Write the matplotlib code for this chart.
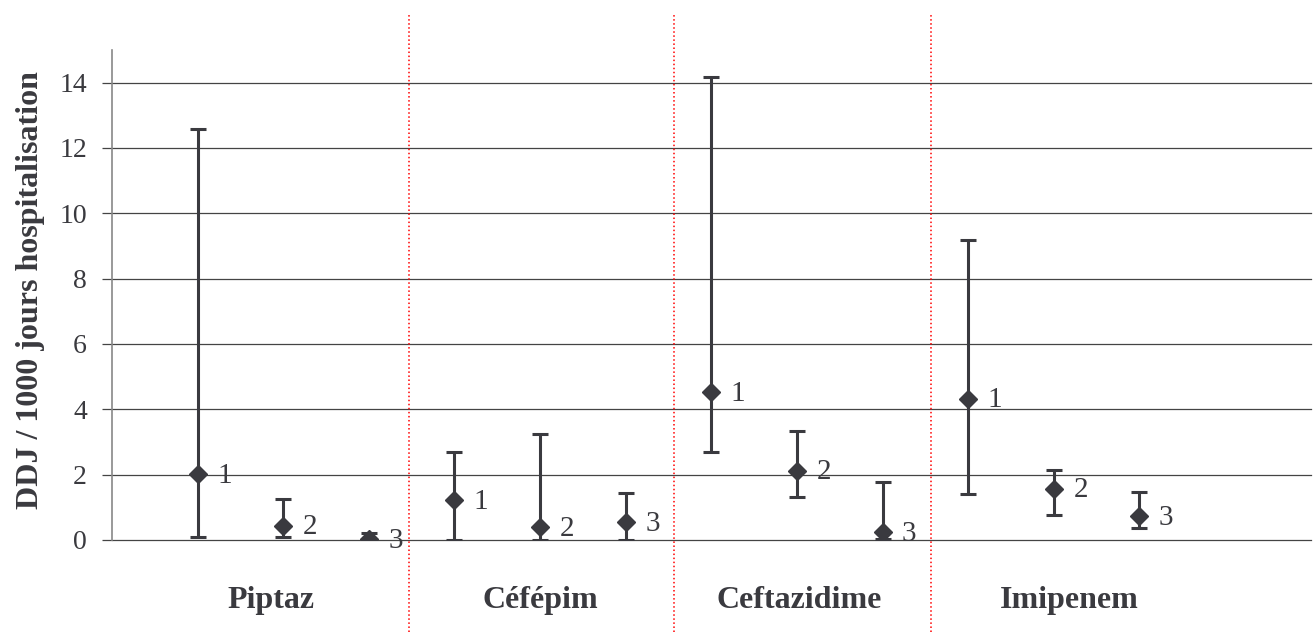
import numpy as np
import matplotlib
matplotlib.use("Agg")
import matplotlib.pyplot as plt

# DDJ / 1000 jours hospitalisation, 3 periodes par antibiotique
drugs = ["Piptaz", "Céfépim", "Ceftazidime", "Imipenem"]
periods = ["1", "2", "3"]
values = [2.01, 0.44, 0.02,
          1.22, 0.39, 0.54,
          4.52, 2.12, 0.24,
          4.33, 1.57, 0.73]
lower = [0.08, 0.10, 0.00,
         0.00, 0.00, 0.00,
         2.68, 1.32, 0.03,
         1.41, 0.76, 0.38]
upper = [12.59, 1.25, 0.22,
         2.70, 3.24, 1.45,
         14.18, 3.35, 1.77,
         9.17, 2.14, 1.48]
y_ticks = [0, 2, 4, 6, 8, 10, 12, 14]

# layout (not data): where the group names and separators sit
label_x = [1.86, 5.0, 8.03, 11.18]
sep_x = [3.47, 6.56, 9.56]

plt.rcParams['font.family'] = ['Liberation Serif', 'DejaVu Serif']

dark = '#3a3a3f'
fig = plt.figure(figsize=(13.16, 6.32), dpi=100)
ax = fig.add_axes([0.0851, 0.1456, 0.996 - 0.0851, 0.9209 - 0.1456])

n = len(values)
x = np.arange(1, n + 1)
vals = np.array(values)
yerr = [vals - np.array(lower), np.array(upper) - vals]

for yt in y_ticks:
    ax.axhline(yt, color='#444444', linewidth=0.9, zorder=1, clip_on=False)

ax.errorbar(x, vals, yerr=yerr, fmt='D', color=dark, ecolor=dark,
            markersize=9.5, elinewidth=2.2, capsize=6, capthick=2.2, zorder=3)

for xi, v, lab in zip(x, vals, periods * len(drugs)):
    ax.annotate(lab, (xi, v), xytext=(14, -1), textcoords='offset points',
                ha='left', va='center', fontsize=21, color=dark)

# separateurs entre antibiotiques
for sx in sep_x:
    ax.axvline(sx, ymin=-0.188, ymax=1.0755, color='red',
               linestyle=':', linewidth=1.1, clip_on=False, zorder=2)

for lx, name in zip(label_x, drugs):
    ax.text(lx, -1.84, name, ha='center', va='center', fontsize=23,
            fontweight='bold', color=dark)

ax.set_xlim(0, 14)
ax.set_ylim(0, 15)
ax.set_xticks([])
ax.set_yticks(y_ticks)
ax.tick_params(axis='y', length=7, width=0.9, color='#444444', pad=11,
               labelsize=20, labelcolor=dark)
for s in ['top', 'right', 'bottom']:
    ax.spines[s].set_visible(False)
ax.spines['left'].set_color('#888888')
ax.spines['left'].set_linewidth(1.2)

fig.text(0.023, 0.541, "DDJ / 1000 jours hospitalisation", rotation=90,
         ha='center', va='center', fontsize=23, fontweight='bold', color=dark)

fig.savefig("out.png", dpi=100)
